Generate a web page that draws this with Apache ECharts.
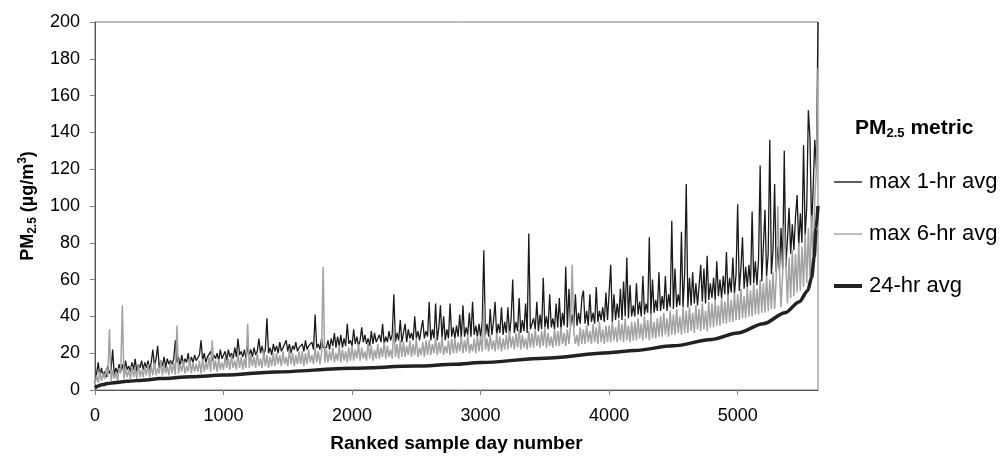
<!DOCTYPE html>
<html>
<head>
<meta charset="utf-8">
<script src="https://cdn.jsdelivr.net/npm/echarts@6/dist/echarts.min.js"></script>
<style>
  html, body { margin: 0; padding: 0; background: #fff; }
  #chart { width: 1000px; height: 457px; }
</style>
</head>
<body>
<div id="chart"></div>
<script>
// ranked day number of each sampled value (one value every 12.5 ranked days)
const rankStep = 12.5;

// max 1-hr avg (200 ranked days per row)
const oneHrMax = [
  4, 9, 15, 7, 12, 8, 10, 7, 13, 9, 11, 22, 8, 12, 9, 14,
  10, 14, 9, 16, 11, 13, 10, 15, 11, 17, 10, 14, 12, 16, 11, 15,
  12, 16, 11, 15, 22, 13, 17, 24, 12, 16, 13, 18, 12, 17, 14, 16,
  14, 17, 27, 15, 18, 13, 19, 14, 17, 15, 20, 14, 18, 15, 19, 16,
  15, 19, 27, 16, 20, 15, 18, 17, 21, 16, 19, 17, 20, 16, 22, 17,
  17, 21, 16, 22, 18, 20, 17, 23, 18, 28, 19, 21, 18, 22, 17, 24,
  19, 22, 18, 23, 19, 21, 28, 20, 24, 19, 22, 39, 20, 23, 19, 25,
  21, 24, 20, 26, 21, 23, 22, 27, 21, 25, 20, 24, 22, 26, 21, 23,
  22, 25, 21, 27, 22, 24, 23, 26, 22, 41, 23, 25, 22, 28, 23, 24,
  23, 27, 22, 28, 24, 31, 23, 29, 24, 30, 23, 28, 24, 36, 25, 27,
  24, 33, 25, 29, 24, 27, 34, 26, 30, 25, 28, 24, 32, 25, 31, 26,
  25, 30, 26, 36, 25, 29, 26, 32, 27, 30, 52, 26, 31, 27, 38, 26,
  27, 36, 26, 33, 28, 31, 27, 40, 28, 32, 27, 33, 38, 28, 32, 29,
  48, 27, 33, 28, 47, 27, 34, 46, 28, 40, 27, 33, 28, 47, 29, 34,
  28, 35, 29, 41, 28, 46, 29, 34, 30, 42, 29, 48, 30, 35, 29, 36,
  29, 37, 76, 30, 36, 29, 44, 30, 37, 48, 30, 36, 31, 45, 30, 37,
  31, 45, 30, 39, 60, 31, 37, 32, 50, 31, 38, 32, 47, 31, 85, 33,
  32, 39, 33, 48, 32, 41, 33, 61, 34, 40, 33, 52, 34, 39, 33, 47,
  34, 50, 33, 42, 35, 67, 34, 55, 35, 41, 34, 52, 35, 42, 36, 50,
  54, 36, 43, 35, 52, 37, 42, 36, 56, 37, 43, 38, 45, 37, 53, 38,
  38, 68, 37, 52, 38, 47, 39, 55, 38, 59, 40, 72, 39, 57, 40, 46,
  40, 58, 41, 48, 40, 62, 41, 47, 42, 83, 41, 60, 42, 49, 43, 64,
  43, 51, 44, 62, 43, 52, 45, 92, 44, 66, 45, 52, 46, 86, 45, 63,
  112, 45, 61, 46, 64, 47, 58, 46, 57, 68, 48, 66, 47, 73, 49, 58,
  50, 61, 49, 70, 51, 60, 50, 62, 52, 75, 51, 61, 53, 72, 52, 63,
  101, 54, 66, 83, 55, 67, 56, 68, 57, 97, 58, 70, 57, 71, 122, 59,
  60, 98, 62, 74, 136, 63, 76, 112, 64, 78, 65, 88, 66, 130, 67, 82,
  99, 74, 90, 76, 94, 106, 78, 96, 80, 133, 84, 100, 152, 137, 88, 110,
  136, 120, 200
];

// max 6-hr avg
const sixHrMax = [
  3, 8, 4, 10, 5, 9, 6, 12, 7, 33, 5, 11, 6, 10, 5, 12,
  9, 46, 6, 12, 7, 11, 6, 13, 7, 12, 6, 14, 7, 11, 7, 13,
  8, 14, 7, 13, 8, 15, 8, 12, 9, 16, 8, 14, 9, 13, 8, 15,
  9, 15, 8, 35, 9, 14, 10, 16, 9, 13, 10, 17, 9, 15, 10, 14,
  10, 16, 9, 17, 10, 15, 11, 18, 10, 27, 11, 16, 10, 17, 11, 15,
  11, 18, 12, 17, 11, 19, 12, 16, 11, 20, 12, 18, 11, 17, 12, 36,
  12, 19, 13, 18, 12, 20, 13, 17, 12, 21, 13, 19, 12, 18, 13, 20,
  13, 20, 14, 19, 13, 21, 14, 18, 13, 22, 14, 20, 13, 19, 14, 21,
  14, 21, 13, 20, 14, 22, 15, 19, 14, 23, 15, 21, 14, 20, 67, 15,
  22, 15, 21, 16, 23, 15, 20, 16, 24, 15, 22, 16, 21, 15, 23, 16,
  24, 16, 22, 17, 25, 16, 23, 17, 21, 16, 26, 17, 24, 16, 22, 17,
  25, 17, 23, 18, 26, 17, 24, 18, 22, 17, 35, 18, 25, 17, 27, 18,
  26, 18, 24, 19, 27, 18, 25, 19, 28, 18, 23, 19, 26, 18, 27, 19,
  27, 19, 25, 20, 28, 19, 26, 20, 29, 19, 24, 20, 27, 19, 28, 20,
  28, 20, 26, 21, 29, 20, 27, 21, 30, 20, 25, 21, 28, 20, 29, 21,
  29, 21, 47, 22, 28, 21, 30, 22, 27, 21, 31, 22, 29, 21, 28, 22,
  30, 22, 32, 23, 29, 22, 31, 23, 33, 22, 30, 23, 28, 22, 32, 23,
  31, 23, 33, 24, 30, 23, 32, 24, 34, 23, 31, 24, 29, 23, 33, 24,
  32, 24, 34, 25, 31, 24, 33, 25, 35, 68, 32, 25, 30, 24, 34, 25,
  33, 25, 35, 26, 32, 25, 36, 26, 34, 25, 37, 26, 33, 25, 35, 26,
  35, 26, 37, 27, 34, 26, 38, 27, 36, 26, 39, 27, 35, 26, 37, 27,
  37, 27, 39, 28, 36, 27, 40, 28, 38, 27, 41, 28, 37, 28, 39, 29,
  40, 29, 42, 30, 39, 29, 43, 30, 41, 30, 44, 31, 40, 30, 45, 31,
  43, 31, 45, 32, 42, 31, 46, 33, 44, 32, 47, 33, 43, 32, 48, 34,
  47, 34, 49, 35, 46, 35, 50, 36, 48, 36, 52, 37, 49, 37, 53, 38,
  52, 38, 55, 39, 51, 39, 56, 40, 54, 40, 58, 41, 55, 41, 60, 42,
  58, 42, 62, 43, 60, 44, 64, 44, 61, 100, 66, 45, 63, 90, 68, 47,
  72, 50, 76, 51, 74, 53, 80, 54, 78, 56, 85, 58, 88, 61, 95, 68,
  105, 120, 175
];

// 24-hr avg (sorted, so it is a smooth rising curve)
const avgDays = [0, 25, 50, 100, 150, 250, 400, 500, 750, 1000, 1400, 2000, 2500, 2800, 3000,
  3500, 4000, 4200, 4500, 4800, 5000, 5200, 5370, 5480, 5545, 5575, 5595, 5610, 5625];
const avgValues = [1.2, 2.2, 2.8, 3.5, 4.0, 4.7, 5.5, 6.2, 7.2, 8.1, 9.8, 11.8, 13.0, 14.0, 14.9,
  17.3, 20.3, 21.5, 24.0, 27.5, 31.0, 36.0, 42.0, 48.0, 54.0, 61.0, 72.0, 88.0, 100];

const xTicks = [0, 1000, 2000, 3000, 4000, 5000];
const seriesNames = ['max 1-hr avg', 'max 6-hr avg', '24-hr avg'];

const font = 'Liberation Sans, Arial, sans-serif';

const chart = echarts.init(document.getElementById('chart'));

const option = {
  animation: false,
  textStyle: { fontFamily: font },
  title: {
    text: '{b|PM}{s|2.5}{b| metric}',
    left: 855,
    top: 116,
    padding: 0,
    textStyle: {
      rich: {
        b: { fontSize: 21, fontWeight: 'bold', color: '#000', fontFamily: font, lineHeight: 24 },
        s: { fontSize: 13, fontWeight: 'bold', color: '#000', fontFamily: font, lineHeight: 12, verticalAlign: 'bottom' }
      }
    }
  },
  legend: {
    orient: 'vertical',
    left: 834,
    top: 171,
    padding: 0,
    itemWidth: 28,
    itemHeight: 14,
    itemGap: 30,
    symbolKeepAspect: true,
    textStyle: { fontSize: 22, color: '#000', fontFamily: font, lineHeight: 22, padding: [0, 0, 0, 2] },
    data: [
      { name: seriesNames[0], icon: 'path://M0,0 L28,0 L28,1.4 L0,1.4 Z' },
      { name: seriesNames[1], icon: 'path://M0,0 L28,0 L28,1.4 L0,1.4 Z' },
      { name: seriesNames[2], icon: 'path://M0,0 L28,0 L28,4 L0,4 Z' }
    ]
  },
  grid: {
    left: 95,
    top: 22,
    right: 182,
    bottom: 67,
    outerBoundsMode: 'none',
    containLabel: false,
    show: true,
    borderColor: '#7a7a7a',
    borderWidth: 1
  },
  xAxis: {
    type: 'value',
    min: 0,
    max: 5625,
    interval: 1000,
    name: 'Ranked sample day number',
    nameLocation: 'middle',
    nameGap: 44,
    nameTextStyle: { fontSize: 19, fontWeight: 'bold', color: '#000', fontFamily: font },
    axisLine: { lineStyle: { color: '#555', width: 1 } },
    axisTick: { show: true, length: 5, lineStyle: { color: '#888' } },
    axisLabel: {
      fontSize: 18, color: '#000', margin: 17, showMaxLabel: false,
      formatter: v => (xTicks.indexOf(v) >= 0 ? String(v) : '')
    },
    splitLine: { show: false }
  },
  yAxis: {
    type: 'value',
    min: 0,
    max: 200,
    interval: 20,
    name: '{b|PM}{s|2.5}{b| (µg/m}{p|3}{b|)}',
    nameLocation: 'middle',
    nameRotate: 90,
    nameGap: 56,
    nameTextStyle: {
      rich: {
        b: { fontSize: 18, fontWeight: 'bold', color: '#000', fontFamily: font, lineHeight: 22 },
        s: { fontSize: 12, fontWeight: 'bold', color: '#000', fontFamily: font, lineHeight: 11, verticalAlign: 'bottom' },
        p: { fontSize: 12, fontWeight: 'bold', color: '#000', fontFamily: font, lineHeight: 11, verticalAlign: 'top' }
      }
    },
    axisLine: { show: true, lineStyle: { color: '#555', width: 1 } },
    axisTick: { show: true, length: 5, lineStyle: { color: '#888' } },
    axisLabel: { fontSize: 18, color: '#000', margin: 15 },
    splitLine: { show: false }
  },
  series: [
    {
      name: seriesNames[0],
      type: 'line',
      data: oneHrMax.map((v, i) => [i * rankStep, v]),
      symbol: 'none',
      color: '#1a1a1a',
      lineStyle: { color: '#1a1a1a', width: 1.3 },
      z: 2
    },
    {
      name: seriesNames[1],
      type: 'line',
      data: sixHrMax.map((v, i) => [i * rankStep, v]),
      symbol: 'none',
      color: '#a2a2a2',
      lineStyle: { color: '#a2a2a2', width: 1.5 },
      z: 3
    },
    {
      name: seriesNames[2],
      type: 'line',
      data: avgDays.map((d, i) => [d, avgValues[i]]),
      symbol: 'none',
      smooth: 0.3,
      smoothMonotone: 'x',
      color: '#222',
      lineStyle: { color: '#222', width: 3.5 },
      z: 4
    }
  ]
};

chart.setOption(option);
</script>
</body>
</html>
